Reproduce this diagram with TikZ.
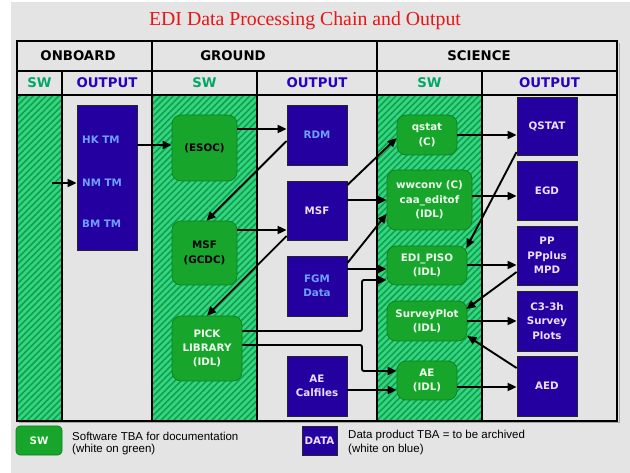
\documentclass[tikz,border=0pt]{standalone}
\usepackage{fontspec}
\newfontfamily\labfont{DejaVu Sans}
\newfontfamily\legfont{Liberation Sans}
\newfontfamily\ttlfont{Liberation Serif}
\usetikzlibrary{patterns.meta,arrows.meta,shadows}
\definecolor{bgc}{RGB}{228,228,228}
\definecolor{dblue}{RGB}{36,0,160}
\definecolor{lblue}{RGB}{112,160,255}
\definecolor{lav}{RGB}{236,222,255}
\definecolor{swg}{RGB}{24,165,44}
\definecolor{swgd}{RGB}{14,128,30}
\definecolor{hatchA}{RGB}{52,214,128}
\definecolor{hatchB}{RGB}{18,158,80}
\definecolor{swhead}{RGB}{0,168,100}
\definecolor{outhead}{RGB}{40,0,190}
\definecolor{ttlred}{RGB}{235,20,20}
\definecolor{swtext}{RGB}{236,255,236}
\begin{document}
\begin{tikzpicture}[x=1pt,y=-1pt,
  boxfont/.style={font=\labfont\bfseries\fontsize{10.3}{14.3}\selectfont},
  dbox/.style={boxfont,draw=black!85,line width=0.8pt,fill=dblue,inner sep=0pt,align=center,text=lav,
     drop shadow={shadow xshift=1.2pt,shadow yshift=-1.2pt,fill=black,opacity=0.55}},
  gbox/.style={boxfont,draw=swgd,line width=0.7pt,fill=swg,rounded corners=9pt,inner sep=0pt,align=center,text=swtext},
  headtxt/.style={font=\labfont\bfseries\fontsize{13.3}{15}\selectfont},
  legtxt/.style={font=\legfont\fontsize{11.5}{14}\selectfont,anchor=west,inner sep=0pt},
  arr/.style={line width=1.9pt,-{Triangle[length=9pt,width=8pt]}},
  grid/.style={line width=1.2pt}]
\useasboundingbox (0,0) rectangle (630,473);
\fill[white] (0,0) rectangle (630,473);
\fill[bgc] (11,2) rectangle (630,473);

% title
\node[font=\ttlfont\fontsize{19.8}{22}\selectfont,text=ttlred,anchor=base] (title) at (305,26) {EDI Data Processing Chain and Output};

% hatched SW columns
\foreach \a/\b in {17/62,152/257,377/482}{
  \fill[hatchA] (\a,95) rectangle (\b,421);
  \fill[pattern={Lines[angle=45,distance=4.5pt,line width=1.6pt]},pattern color=hatchB] (\a,95) rectangle (\b,421);
}
% table grid
\draw[grid] (17,71) -- (617,71);
\draw[grid] (17,95) -- (617,95);
\draw[grid] (152,41) -- (152,421);
\draw[grid] (377,41) -- (377,421);
\draw[grid] (62,71) -- (62,421);
\draw[grid] (257,71) -- (257,421);
\draw[grid] (482,71) -- (482,421);
\draw[line width=1.8pt] (17,41) rectangle (617,421);
\draw[black!35,line width=1pt] (619,43) -- (619,423) -- (19,423);

% headers
\node[headtxt] (hon) at (78,56) {ONBOARD};
\node[headtxt] (hgr) at (233,56) {GROUND};
\node[headtxt] (hsc) at (479,56) {SCIENCE};
\node[headtxt,text=swhead] (hsw1) at (39.5,83) {SW};
\node[headtxt,text=outhead] (hout1) at (107,83) {OUTPUT};
\node[headtxt,text=swhead] (hsw2) at (204.5,83) {SW};
\node[headtxt,text=outhead] (hout2) at (317,83) {OUTPUT};
\node[headtxt,text=swhead] (hsw3) at (429.5,83) {SW};
\node[headtxt,text=outhead] (hout3) at (549.5,83) {OUTPUT};

% onboard output
\node[dbox,minimum width=60pt,minimum height=145pt] (tm) at (107,177.5) {};
\node[boxfont,text=lblue,anchor=west,inner sep=0pt] (hk) at (82,140) {HK TM};
\node[boxfont,text=lblue,anchor=west,inner sep=0pt] (nm) at (82,183) {NM TM};
\node[boxfont,text=lblue,anchor=west,inner sep=0pt] (bm) at (82,224) {BM TM};
\coordinate (src) at (52,183);

% ground SW
\node[gbox,text=black,minimum width=65pt,minimum height=66pt] (esoc) at (204.5,148) {(ESOC)};
\node[gbox,text=black,minimum width=65pt,minimum height=64pt] (gcdc) at (204.5,253) {MSF\\(GCDC)};
\node[gbox,minimum width=70pt,minimum height=65pt] (pick) at (207,348.5) {PICK\\LIBRARY\\(IDL)};

% ground output
\node[dbox,text=lblue,minimum width=60pt,minimum height=60pt] (rdm) at (317,135) {RDM};
\node[dbox,minimum width=60pt,minimum height=59pt] (msfd) at (317,210.5) {MSF};
\node[dbox,text=lblue,minimum width=60pt,minimum height=60pt] (fgm) at (317,286) {FGM\\Data};
\node[dbox,minimum width=60pt,minimum height=60pt] (aecal) at (317,386) {AE\\Calfiles};

% science SW
\node[gbox,minimum width=60pt,minimum height=40pt] (qstat) at (427,135) {qstat\\(C)};
\node[gbox,minimum width=85pt,minimum height=60pt] (wwconv) at (429.5,200) {wwconv (C)\\caa\_editof\\(IDL)};
\node[gbox,minimum width=80pt,minimum height=39pt] (piso) at (427,265.5) {EDI\_PISO\\(IDL)};
\node[gbox,minimum width=80pt,minimum height=40pt] (survey) at (427,321) {SurveyPlot\\(IDL)};
\node[gbox,minimum width=60pt,minimum height=39pt] (aeidl) at (427,380.5) {AE\\(IDL)};

% science output
\node[dbox,minimum width=60pt,minimum height=58pt] (qstatd) at (547,126) {QSTAT};
\node[dbox,minimum width=60pt,minimum height=59pt] (egd) at (547,190.5) {EGD};
\node[dbox,minimum width=60pt,minimum height=59pt] (pp) at (547,255.5) {PP\\PPplus\\MPD};
\node[dbox,minimum width=60pt,minimum height=60pt] (c3) at (547,321) {C3-3h\\Survey\\Plots};
\node[dbox,minimum width=60pt,minimum height=60pt] (aed) at (547,386) {AED};

% connectors
\draw[arr] (src) -- (src -| tm.west);
\draw[arr] (tm.east |- 0,145) -- (esoc.west |- 0,145);
\draw[arr] (esoc.east |- 0,129) -- (rdm.west |- 0,129);
\draw[arr] (rdm.west |- 0,141) -- ([xshift=2pt]gcdc.north);
\draw[arr] (gcdc.east |- 0,230) -- (msfd.west |- 0,230);
\draw[arr] (msfd.west |- 0,236) -- (pick.north);
\draw[arr] (msfd.east |- 0,185) -- (qstat.west |- 0,138);
\draw[arr] (msfd.east |- 0,200) -- (wwconv.west |- 0,200);
\draw[arr] (fgm.east |- 0,263) -- (wwconv.west |- 0,214);
\draw[arr] (fgm.east |- 0,269) -- (piso.west |- 0,269);
\draw[arr,rounded corners=2pt] (pick.east |- 0,331) -| (362,280) -- (piso.west |- 0,280);
\draw[arr,rounded corners=2pt] (pick.east |- 0,345) -| (362,371) -- (aeidl.west |- 0,371);
\draw[arr] (aecal.east |- 0,390) -- (aeidl.west |- 0,390);
\draw[arr] (qstat.east |- 0,135) -- (qstatd.west |- 0,135);
\draw[arr] (wwconv.east |- 0,196) -- (egd.west |- 0,196);
\draw[arr] (qstatd.west |- 0,152) -- ([xshift=-1pt]piso.east |- 0,248);
\draw[arr] (piso.east |- 0,265) -- (pp.west |- 0,265);
\draw[arr] (pp.west |- 0,272) -- ([xshift=-1pt]survey.east |- 0,309);
\draw[arr] (survey.east |- 0,321) -- (c3.west |- 0,321);
\draw[arr] (aed.west |- 0,368) -- (survey.east |- 0,336);
\draw[arr] (aeidl.east |- 0,387) -- (aed.west |- 0,387);

% legend
\node[gbox,rounded corners=4pt,minimum width=46pt,minimum height=29pt] (legsw) at (39,440.5) {SW};
\node[legtxt] (legsw1) at (72,436) {Software TBA for documentation};
\node[legtxt] (legsw2) at (72,450) {(white on green)};
\node[dbox,drop shadow={opacity=0},minimum width=35pt,minimum height=29pt] (legdata) at (319.5,440.5) {DATA};
\node[legtxt] (legd1) at (348,436) {Data product TBA = to be archived};
\node[legtxt] (legd2) at (348,450) {(white on blue)};
\end{tikzpicture}
\end{document}
